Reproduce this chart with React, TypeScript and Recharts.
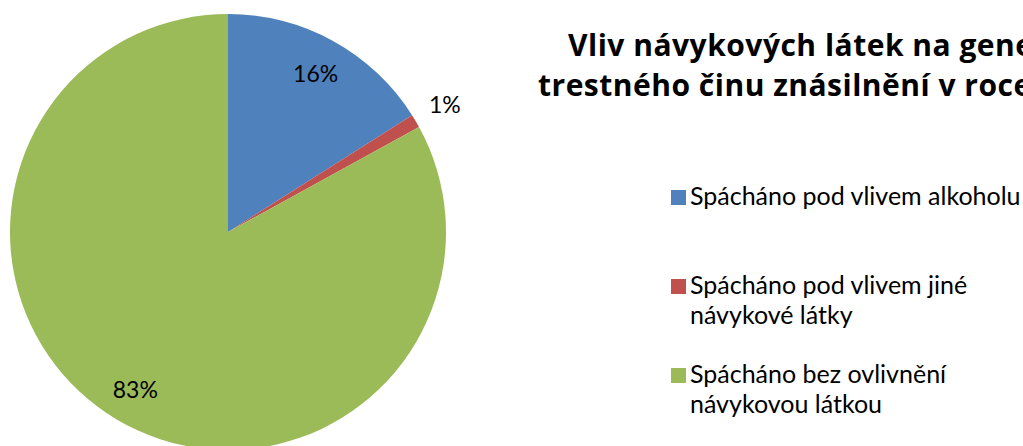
import React from 'react';
import { PieChart, Pie, Cell, Legend } from 'recharts';

const categories = [
  'Spácháno pod vlivem alkoholu',
  'Spácháno pod vlivem jiné návykové látky',
  'Spácháno bez ovlivnění návykovou látkou',
];
const shares = [16, 1, 83];
const titleLines = ['Vliv návykových látek na genezi', 'trestného činu znásilnění v roce 2012'];

const COLORS = ['#4F81BD', '#C0504D', '#9BBB59'];
const FONT = 'Lato, "Open Sans", sans-serif';
const TITLE_FONT = '"Open Sans", Lato, sans-serif';
const RADIAN = Math.PI / 180;

const data = categories.map((name, i) => ({ name, value: shares[i] }));

const renderLabel = (props: any) => {
  const { cx, cy, midAngle, outerRadius, percent } = props;
  const r = percent < 0.05 ? outerRadius + 34 : 182;
  const x = cx + r * Math.cos(-midAngle * RADIAN);
  const y = cy + r * Math.sin(-midAngle * RADIAN);
  return (
    <text x={x} y={y} textAnchor="middle" dominantBaseline="central" fill="#000" fontFamily={FONT} fontSize={23}>
      {`${Math.round(percent * 100)}%`}
    </text>
  );
};

// legend drawn in data order (recharts 3 sorts the payload by default)
const renderLegend = () => (
  <div style={{ fontFamily: FONT, fontSize: 25, lineHeight: '30px', color: '#000' }}>
    {categories.map((name, i) => (
      <div key={i} style={{ height: 89, display: 'flex', alignItems: 'flex-start' }}>
        <div style={{ width: 15, height: 15, background: COLORS[i], marginTop: 10, marginRight: 4, flexShrink: 0 }} />
        <div style={{ width: 335 }}>{name}</div>
      </div>
    ))}
  </div>
);

export default function App() {
  const titleStyle: React.CSSProperties = {
    position: 'absolute',
    whiteSpace: 'nowrap',
    fontFamily: TITLE_FONT,
    fontWeight: 700,
    fontSize: 30,
    lineHeight: '30px',
    letterSpacing: 0.5,
    color: '#000',
  };
  return (
    <div style={{ position: 'absolute', left: 0, top: 0, width: 1023, height: 446, overflow: 'hidden', background: '#fff' }}>
      <PieChart width={1023} height={446} margin={{ top: 0, right: 0, bottom: 0, left: 0 }}>
        <Pie
          data={data}
          dataKey="value"
          nameKey="name"
          cx={228}
          cy={232}
          outerRadius={218}
          startAngle={90}
          endAngle={-270}
          stroke="none"
          label={renderLabel}
          labelLine={false}
          isAnimationActive={false}
        >
          {data.map((_, i) => (
            <Cell key={`cell-${i}`} fill={COLORS[i]} />
          ))}
        </Pie>
        <Legend
          layout="vertical"
          content={renderLegend}
          wrapperStyle={{ position: 'absolute', left: 671, top: 180, width: 352 }}
        />
      </PieChart>
      <div style={{ ...titleStyle, left: 568, top: 30 }}>{titleLines[0]}</div>
      <div style={{ ...titleStyle, left: 538, top: 70 }}>{titleLines[1]}</div>
    </div>
  );
}
